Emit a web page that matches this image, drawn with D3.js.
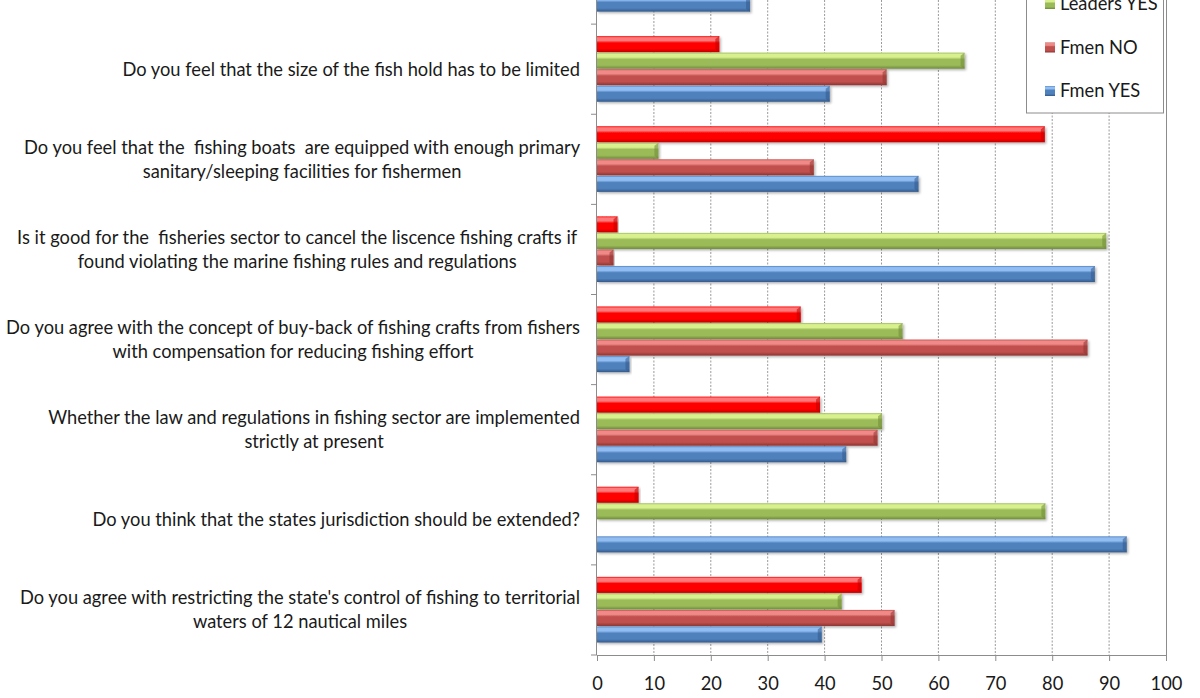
<!DOCTYPE html>
<html>
<head>
<meta charset="utf-8">
<script src="https://cdn.jsdelivr.net/npm/d3@7"></script>
<style>
  html, body { margin: 0; padding: 0; background: #fff; }
  svg { display: block; }
  text { font-family: Lato, "Open Sans", "Liberation Sans", sans-serif; fill: #1a1a1a; }
</style>
</head>
<body>
<svg id="chart" width="1200" height="698"></svg>
<script>
// Survey questions, top to bottom ("\n" splits a label onto two lines)
const questions = [
  "",
  "Do you feel that the size of the fish hold has to be limited",
  "Do you feel that the  fishing boats  are equipped with enough primary\nsanitary/sleeping facilities for fishermen",
  "Is it good for the  fisheries sector to cancel the liscence fishing crafts if\nfound violating the marine fishing rules and regulations",
  "Do you agree with the concept of buy-back of fishing crafts from fishers\nwith compensation for reducing fishing effort",
  "Whether the law and regulations in fishing sector are implemented\nstrictly at present",
  "Do you think that the states jurisdiction should be extended?",
  "Do you agree with restricting the state's control of fishing to territorial\nwaters of 12 nautical miles"
];

// Percentage of respondents per question
const leadersNo  = [null, 21.5, 78.7, 3.6, 35.8, 39.2, 7.3, 46.5];
const leadersYes = [null, 64.6, 10.8, 89.5, 53.7, 50.1, 78.8, 43.0];
const fmenNo     = [null, 50.9, 38.1, 2.9, 86.2, 49.3, 0, 52.3];
const fmenYes    = [26.9, 40.9, 56.5, 87.5, 5.7, 43.8, 93.1, 39.5];

const seriesNames = ["Leaders NO", "Leaders YES", "Fmen NO", "Fmen YES"];
const xTicks = [0, 10, 20, 30, 40, 50, 60, 70, 80, 90, 100];

const seriesValues = [leadersNo, leadersYes, fmenNo, fmenYes];
const palette = {
  "Leaders NO":  { base: "#ff0000", hi: "#ff7a7a", lo: "#c00000" },
  "Leaders YES": { base: "#9bbb59", hi: "#d8f08e", lo: "#6f8a3a" },
  "Fmen NO":     { base: "#c0504d", hi: "#ef8a88", lo: "#8c3432" },
  "Fmen YES":    { base: "#4f81bd", hi: "#92bdf2", lo: "#34598a" }
};

const svg = d3.select("#chart");
const plot = { left: 597, right: 1166, top: -66, bottom: 655 };

const x = d3.scaleLinear().domain([0, 100]).range([plot.left, plot.right]);
const y = d3.scaleBand().domain(d3.range(questions.length)).range([plot.top, plot.bottom]).padding(0);
const inner = d3.scaleBand().domain(seriesNames)
  .range([y.bandwidth() * 0.133, y.bandwidth() * 0.867]).padding(0);

// Gradients giving the bars their bevelled look
const defs = svg.append("defs");
seriesNames.forEach((name, i) => {
  const c = palette[name];
  const g = defs.append("linearGradient").attr("id", "grad" + i)
    .attr("x1", 0).attr("y1", 0).attr("x2", 0).attr("y2", 1);
  [[0, c.base], [0.1, c.hi], [0.28, c.hi], [0.42, c.base], [0.78, c.base], [1, c.lo]]
    .forEach(([o, col]) => g.append("stop").attr("offset", o).attr("stop-color", col));
});
const shadow = defs.append("filter").attr("id", "shadow")
  .attr("x", "-5%").attr("y", "-30%").attr("width", "110%").attr("height", "170%");
shadow.append("feDropShadow").attr("dx", 1.5).attr("dy", 1.5).attr("stdDeviation", 1.2)
  .attr("flood-color", "#000").attr("flood-opacity", 0.3);

// Vertical gridlines
svg.append("g").selectAll("line").data(xTicks.filter(t => t > 0 && t < 100)).join("line")
  .attr("x1", d => x(d)).attr("x2", d => x(d))
  .attr("y1", 0).attr("y2", plot.bottom)
  .attr("stroke", "#9a9a9a").attr("stroke-width", 1).attr("stroke-dasharray", "2,1.5");

// Plot area right border
svg.append("line").attr("x1", x(100) + 0.5).attr("x2", x(100) + 0.5)
  .attr("y1", 0).attr("y2", plot.bottom).attr("stroke", "#8c8c8c");

// Bars
const rows = [];
questions.forEach((q, qi) => {
  seriesNames.forEach((name, si) => {
    const v = seriesValues[si][qi];
    if (v !== null && v > 0) rows.push({ qi, name, si, v });
  });
});
const bars = svg.append("g").selectAll("g").data(rows).join("g");
bars.append("rect")
  .attr("x", x(0))
  .attr("y", d => y(d.qi) + inner(d.name))
  .attr("width", d => x(d.v) - x(0))
  .attr("height", inner.bandwidth() - 0.5)
  .attr("fill", d => `url(#grad${d.si})`)
  .attr("filter", "url(#shadow)");
// chamfered right end
bars.append("path")
  .attr("d", d => {
    const x1 = x(d.v), y0 = y(d.qi) + inner(d.name), h = inner.bandwidth() - 0.5;
    const b = Math.min(4, (x1 - x(0)) / 2);
    return `M${x1 - b},${y0 + 3}L${x1},${y0}L${x1},${y0 + h}L${x1 - b},${y0 + h - 3}Z`;
  })
  .attr("fill", d => palette[d.name].lo).attr("opacity", 0.55);

// Category axis
const yAxis = svg.append("g");
yAxis.append("line").attr("x1", plot.left - 0.5).attr("x2", plot.left - 0.5)
  .attr("y1", 0).attr("y2", plot.bottom).attr("stroke", "#8c8c8c");
yAxis.selectAll(".tk").data(d3.range(questions.length + 1)).join("line")
  .attr("class", "tk")
  .attr("x1", plot.left - 6).attr("x2", plot.left)
  .attr("y1", i => plot.top + i * y.step()).attr("y2", i => plot.top + i * y.step())
  .attr("stroke", "#8c8c8c");

// Fit the label size to the single-line label width
const probe = svg.append("text").attr("font-size", 16).text(questions[1]);
const fontSize = 16 * 458 / probe.node().getComputedTextLength();
probe.remove();

const labelRight = 580;
const lineH = 24;
questions.forEach((q, qi) => {
  if (!q) return;
  const lines = q.split("\n");
  const t = svg.append("text").attr("font-size", fontSize).style("white-space", "pre")
    .attr("text-anchor", "middle");
  const spans = lines.map((ln, li) => t.append("tspan").text(ln)
    .attr("dy", null));
  const maxW = d3.max(spans, s => s.node().getComputedTextLength());
  const cx = labelRight - maxW / 2;
  const cy = y(qi) + y.bandwidth() / 2;
  spans.forEach((s, li) => {
    s.attr("x", cx).attr("y", cy + (li - (lines.length - 1) / 2) * lineH).attr("dy", "0.35em");
  });
});

// Value axis
const xAxis = svg.append("g").attr("transform", `translate(0,${plot.bottom})`)
  .call(d3.axisBottom(x).tickValues(xTicks).tickSize(6).tickPadding(16).tickFormat(d3.format("d")));
xAxis.select(".domain").attr("stroke", "#8c8c8c");
xAxis.selectAll(".tick line").attr("stroke", "#8c8c8c");
xAxis.selectAll("text").attr("font-size", fontSize).attr("font-family", null).attr("fill", "#1a1a1a");

// Legend
const legend = svg.append("g");
const legTop = -84, legBottom = 113, legLeft = 1026, legRight = 1163;
legend.append("rect").attr("x", legLeft + 0.5).attr("y", legTop)
  .attr("width", legRight - legLeft).attr("height", legBottom - legTop)
  .attr("fill", "#fff").attr("stroke", "#8c8c8c");
const legY = d3.scalePoint().domain(seriesNames).range([-39.5, 91]);
const items = legend.selectAll(".it").data(seriesNames).join("g").attr("class", "it")
  .attr("transform", d => `translate(1045,${legY(d)})`);
items.append("rect").attr("x", 0).attr("y", -5).attr("width", 10).attr("height", 10)
  .attr("fill", (d, i) => `url(#grad${i})`);
items.append("text").attr("x", 15).attr("dy", "0.35em").attr("font-size", fontSize).text(d => d);
</script>
</body>
</html>
